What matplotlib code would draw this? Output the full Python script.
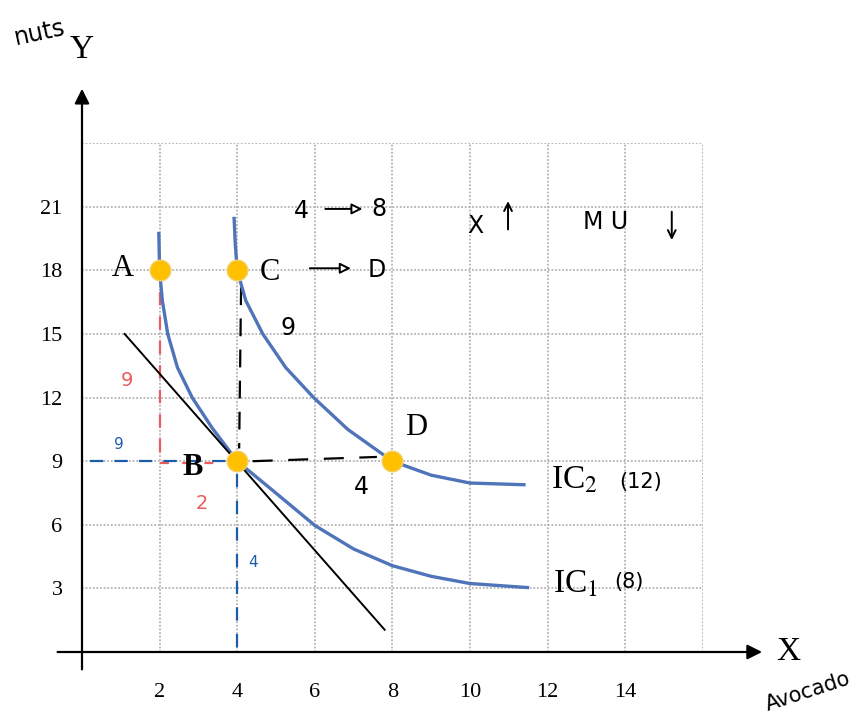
import matplotlib as mpl
mpl.use('Agg')
import matplotlib.pyplot as plt

# indifference curves
ic1_x = [1.98, 2.0, 2.07, 2.21, 2.46, 2.84, 3.35, 4.0, 4.91, 6.0, 7.0, 8.0, 9.0, 10.0, 11.48]
ic1_y = [19.74, 18.0, 16.58, 15.0, 13.42, 12.0, 10.58, 9.0, 7.63, 5.97, 4.86, 4.07, 3.57, 3.23, 3.04]
ic2_x = [3.92, 3.95, 4.0, 4.22, 4.66, 5.25, 5.97, 6.85, 8.0, 9.0, 10.0, 11.39]
ic2_y = [20.45, 19.26, 18.0, 16.58, 15.0, 13.42, 12.0, 10.5, 9.0, 8.34, 7.97, 7.89]

# budget (tangent) line
budget_x = [1.1, 7.8]
budget_y = [15.0, 1.05]

# bundles
pt_names = ['A', 'C', 'B', 'D']
pt_x = [2, 4, 4, 8]
pt_y = [18, 18, 9, 9]

xticks = [2, 4, 6, 8, 10, 12, 14]
yticks = [3, 6, 9, 12, 15, 18, 21]

plt.rcParams['font.family'] = ['Liberation Serif', 'DejaVu Serif']
plt.rcParams['mathtext.fontset'] = 'stix'

fig = plt.figure(figsize=(8.6, 7.2), dpi=100)
ax = fig.add_axes([82/860, 68/720, 620.8/860, 508.8/720])
ax.set_xlim(0, 16)
ax.set_ylim(0, 24)

# grid
for gx in range(2, 17, 2):
    ax.axvline(gx, color='#b4b4b4', lw=1.3, ls=(0, (1, 1)), zorder=0)
for gy in range(3, 25, 3):
    ax.axhline(gy, color='#b4b4b4', lw=1.3, ls=(0, (1, 1)), zorder=0)

for s in ax.spines.values():
    s.set_visible(False)
ax.set_xticks(xticks)
ax.set_yticks(yticks)
ax.tick_params(length=0, labelsize=16, pad=14)
ax.tick_params(axis='x', pad=22)

# axes with arrows
ax.annotate('', xy=(17.6, 0), xytext=(-0.7, 0), annotation_clip=False,
            arrowprops=dict(arrowstyle='-|>', color='black', lw=1.6, mutation_scale=22))
ax.annotate('', xy=(0, 26.7), xytext=(0, -0.95), annotation_clip=False,
            arrowprops=dict(arrowstyle='-|>', color='black', lw=1.6, mutation_scale=22))
ax.text(18.2, 0, 'X', fontsize=24, ha='center', va='center', clip_on=False)
ax.text(0.0, 28.4, 'Y', fontsize=24, ha='center', va='center', clip_on=False)

# dashed helpers
red = '#ee5a5e'
blue = '#1d5ca8'
ax.plot([2, 2], [17.0, 9.2], color=red, lw=1.6, ls=(0, (6, 5)))
ax.plot([2, 3.6], [8.9, 8.9], color=red, lw=1.6, ls=(0, (4, 6)))
ax.plot([0.2, 3.8], [9.0, 9.0], color=blue, lw=1.6, ls=(0, (6, 5)))
ax.plot([4, 4], [8.4, 0], color=blue, lw=1.6, ls=(0, (6, 6)))
ax.plot([4.1, 4.05], [17.2, 9.6], color='black', lw=1.6, ls=(0, (8, 6)))
ax.plot([4.4, 7.6], [9.0, 9.2], color='black', lw=1.6, ls=(0, (9, 7)))

# curves and budget line
ax.plot(ic1_x, ic1_y, color='#4f74b9', lw=2.4, zorder=3, solid_joinstyle='round')
ax.plot(ic2_x, ic2_y, color='#4f74b9', lw=2.4, zorder=3, solid_joinstyle='round')
ax.plot(budget_x, budget_y, color='black', lw=1.4, zorder=4)

ax.scatter(pt_x, pt_y, s=220, color='#ffc000', edgecolor='#f3cf6a', lw=1, zorder=5)

offsets = {'A': (-0.95, 0.1), 'C': (0.85, -0.1), 'B': (-1.15, -0.3), 'D': (0.6, 1.6)}
for n, x, y in zip(pt_names, pt_x, pt_y):
    dx, dy = offsets[n]
    ax.text(x + dx, y + dy, n, fontsize=22, fontweight='bold' if n == 'B' else 'normal',
            ha='center', va='center', zorder=6)

ax.text(12.1, 8.1, 'IC$_2$', fontsize=24, ha='left', va='center')
ax.text(12.15, 3.2, 'IC$_1$', fontsize=24, ha='left', va='center')

# handwritten notes
hand = dict(family='DejaVu Sans', fontweight='normal')
ax.text(14.4, 8.0, '(12)', fontsize=15, color='black', ha='center', va='center', **hand)
ax.text(14.1, 3.3, '(8)', fontsize=15, color='black', ha='center', va='center', **hand)
ax.text(5.65, 20.8, '4', fontsize=17, ha='center', va='center', **hand)
ax.annotate('', xy=(7.3, 20.9), xytext=(6.2, 20.9),
            arrowprops=dict(arrowstyle='-|>', color='black', lw=1.4, mutation_scale=16,
                            fc='white'))
ax.text(7.45, 20.9, '8', fontsize=17, ha='left', va='center', **hand)
ax.annotate('', xy=(7.0, 18.1), xytext=(5.8, 18.1),
            arrowprops=dict(arrowstyle='-|>', color='black', lw=1.4, mutation_scale=16,
                            fc='white'))
ax.text(7.35, 18.0, 'D', fontsize=17, ha='left', va='center', **hand)
ax.text(10.13, 20.1, 'X', fontsize=17, ha='center', va='center', **hand)
ax.annotate('', xy=(10.98, 21.4), xytext=(10.98, 19.8),
            arrowprops=dict(arrowstyle='->', color='black', lw=1.4, mutation_scale=14))
ax.text(13.5, 20.3, 'M U', fontsize=17, ha='center', va='center', **hand)
ax.annotate('', xy=(15.2, 19.3), xytext=(15.2, 20.9),
            arrowprops=dict(arrowstyle='->', color='black', lw=1.4, mutation_scale=14))
ax.text(5.3, 15.3, '9', fontsize=17, ha='center', va='center', **hand)
ax.text(7.2, 7.8, '4', fontsize=17, ha='center', va='center', **hand)
ax.text(1.15, 12.8, '9', fontsize=14, color=red, ha='center', va='center', **hand)
ax.text(3.1, 7.0, '2', fontsize=14, color=red, ha='center', va='center', **hand)
ax.text(0.95, 9.8, '9', fontsize=11, color=blue, ha='center', va='center', **hand)
ax.text(4.4, 4.2, '4', fontsize=11, color=blue, ha='center', va='center', **hand)
ax.text(-1.08, 29.2, 'nuts', fontsize=17, rotation=12, ha='center', va='center',
        clip_on=False, **hand)
ax.text(18.7, -1.85, 'Avocado', fontsize=15, rotation=18, ha='center', va='center',
        clip_on=False, **hand)

fig.savefig('out.png', dpi=100)
